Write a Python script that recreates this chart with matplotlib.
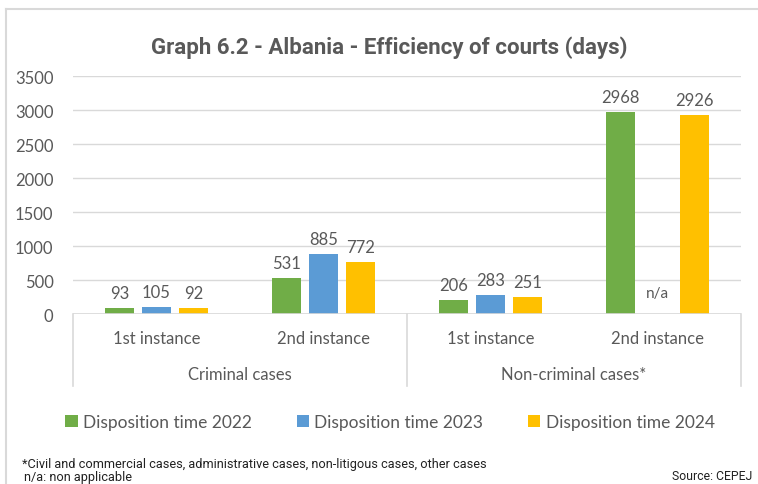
import matplotlib
matplotlib.use("Agg")
import matplotlib.pyplot as plt
from matplotlib.lines import Line2D
import numpy as np

# ── data ──────────────────────────────────────────────────────────────────────
instances = ["1st instance", "2nd instance", "1st instance", "2nd instance"]
groups = ["Criminal cases", "Non-criminal cases*"]
years = ["Disposition time 2022", "Disposition time 2023", "Disposition time 2024"]
dt_2022 = [93, 531, 206, 2968]
dt_2023 = [105, 885, 283, np.nan]   # n/a for non-criminal 2nd instance
dt_2024 = [92, 772, 251, 2926]

# ── style ─────────────────────────────────────────────────────────────────────
GREEN = "#70AD47"
BLUE = "#5B9BD5"
YELLOW = "#FFC000"
TEXT = "#595959"
GRID = "#D9D9D9"
FONT = "Lato"

W, H = 758, 485
fig = plt.figure(figsize=(W / 100, H / 100), dpi=100)
fig.patch.set_facecolor("white")

# outer chart frame (top + left edges visible)
fig.add_artist(Line2D([6 / W, 6 / W], [0, 1 - 10 / H], transform=fig.transFigure, color=GRID, lw=1.5))
fig.add_artist(Line2D([6 / W, 1], [1 - 10 / H, 1 - 10 / H], transform=fig.transFigure, color=GRID, lw=1.5))

x0, x1, y_top, y_zero = 73, 741, 77, 315
ax = fig.add_axes([x0 / W, 1 - y_zero / H, (x1 - x0) / W, (y_zero - y_top) / H])

x = np.arange(len(instances))
step, bw = 0.222, 0.174
series = [dt_2022, dt_2023, dt_2024]
colors = [GREEN, BLUE, YELLOW]
bars = []
for i, (vals, c, lab) in enumerate(zip(series, colors, years)):
    pos = x + (i - 1) * step
    b = ax.bar(pos, np.nan_to_num(vals), width=bw, color=c, label=lab, zorder=3)
    bars.append(b)
    for p, v in zip(pos, vals):
        if np.isnan(v):
            ax.text(p, 200, "n/a", ha="center", va="bottom", fontsize=11, color=TEXT, family=FONT)
        else:
            ax.annotate(f"{v:.0f}", xy=(p, v), xytext=(0, 5), textcoords="offset points",
                        ha="center", va="bottom", fontsize=12, color=TEXT, family=FONT)

ax.set_xlim(-0.5, 3.5)
ax.set_ylim(0, 3500)
ax.set_yticks(np.arange(0, 3501, 500))
ax.tick_params(axis="y", length=0, labelsize=12, labelcolor=TEXT, pad=14)
for t in ax.get_yticklabels():
    t.set_family(FONT)
ax.set_xticks([])
ax.grid(axis="y", color=GRID, lw=1, zorder=0)
for s in ax.spines.values():
    s.set_visible(False)
ax.axhline(0, color=GRID, lw=1.2, zorder=4)

# multi-level category axis
box_depth = (387 - y_zero) / (y_zero - y_top)
for xv in (0, 0.5, 1):
    ax.add_line(Line2D([xv, xv], [0, -box_depth], transform=ax.transAxes, color=GRID, lw=1.2, clip_on=False))
sub_y = -(339 - y_zero) / (y_zero - y_top)
grp_y = -(375 - y_zero) / (y_zero - y_top)
for xi, lab in zip(x, instances):
    ax.text(xi, sub_y, lab, transform=ax.get_xaxis_transform(), ha="center", va="center",
            fontsize=12, color=TEXT, family=FONT)
for gi, g in enumerate(groups):
    ax.text(0.25 + 0.5 * gi, grp_y, g, transform=ax.transAxes, ha="center", va="center",
            fontsize=12, color=TEXT, family=FONT)

# title
fig.text(389 / W, 1 - 48 / H, "Graph 6.2 - Albania - Efficiency of courts (days)", ha="center", va="center",
         fontsize=16, fontweight="bold", color=TEXT, family="Roboto")

# legend
fig.legend(handles=bars, labels=years, loc="center", bbox_to_anchor=(390 / W, 1 - 423 / H), ncol=3,
           frameon=False, handlelength=0.7, handleheight=0.7, handletextpad=0.3, columnspacing=2.6,
           prop={"family": FONT, "size": 12.5}, labelcolor=TEXT)

# footnotes
fig.text(22 / W, 1 - 465 / H, "*Civil and commercial cases, administrative cases, non-litigous cases, other cases",
         ha="left", va="center", fontsize=9.2, color="#222222", family="Roboto")
fig.text(24 / W, 1 - 478 / H, "n/a: non applicable", ha="left", va="center", fontsize=9.2, color="#222222", family="Roboto")
fig.text(752 / W, 1 - 477 / H, "Source: CEPEJ", ha="right", va="center", fontsize=8.8, color="#222222", family="Roboto")

fig.savefig("out.png", dpi=100, facecolor="white")
